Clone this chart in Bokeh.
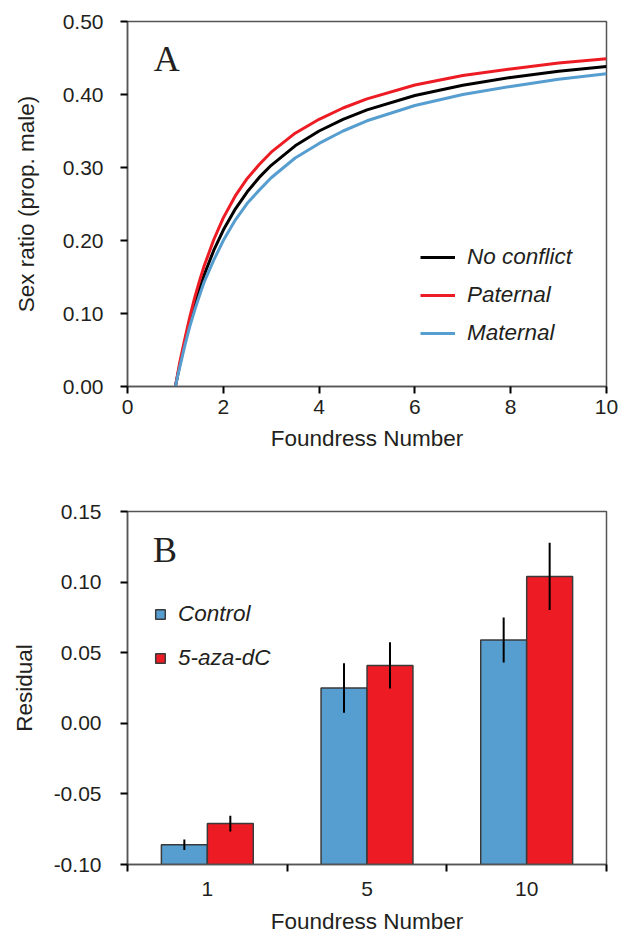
import numpy as np
from bokeh.plotting import figure
from bokeh.layouts import column
from bokeh.models import (Range1d, FixedTicker, NumeralTickFormatter, Legend,
                          LegendItem, Label)
from bokeh.embed import file_html
from bokeh.resources import INLINE

# ---------------- data: panel A (theoretical sex ratios) ----------------
foundress_n = [1, 1.05, 1.1, 1.2, 1.3, 1.4, 1.5, 1.6, 1.8, 2, 2.25, 2.5, 2.75,
               3, 3.5, 4, 4.5, 5, 6, 7, 8, 9, 10]
no_conflict = [0, 0.0164, 0.0321, 0.0614, 0.0879, 0.1118, 0.1333, 0.1528, 0.1864,
               0.2143, 0.2431, 0.2667, 0.2864, 0.3030, 0.3297, 0.3500, 0.3660,
               0.3789, 0.3986, 0.4127, 0.4234, 0.4317, 0.4385]
paternal = [0, 0.018, 0.036, 0.066, 0.095, 0.121, 0.144, 0.165, 0.201, 0.231,
            0.261, 0.285, 0.304, 0.321, 0.347, 0.366, 0.3815, 0.394, 0.413,
            0.426, 0.435, 0.443, 0.449]
maternal = [0, 0.015, 0.029, 0.057, 0.082, 0.104, 0.124, 0.143, 0.173, 0.200,
            0.228, 0.251, 0.269, 0.286, 0.313, 0.333, 0.350, 0.364, 0.385,
            0.400, 0.411, 0.421, 0.4285]
a_xticks = [0, 2, 4, 6, 8, 10]
a_yticks = [0.0, 0.1, 0.2, 0.3, 0.4, 0.5]

# ---------------- data: panel B (residuals) ----------------
categories = ["1", "5", "10"]
control = [-0.086, 0.025, 0.059]
control_se = [0.0037, 0.0176, 0.016]
aza = [-0.071, 0.041, 0.104]
aza_se = [0.0056, 0.0164, 0.0238]
b_yticks = [-0.10, -0.05, 0.0, 0.05, 0.10, 0.15]

FONT = "Liberation Sans"
SERIF = "Liberation Serif"
TXT = "#231f20"
RED = "#ed1c24"
BLUE = "#569dd0"
FRAME = "#555555"


def style(p):
    p.xgrid.grid_line_color = None
    p.ygrid.grid_line_color = None
    p.outline_line_color = FRAME
    p.outline_line_width = 1.5
    p.background_fill_color = "white"
    p.border_fill_color = "white"
    for ax in (p.xaxis[0], p.yaxis[0]):
        ax.axis_line_color = FRAME
        ax.axis_line_width = 1.5
        ax.major_tick_line_color = "black"
        ax.major_tick_line_width = 2
        ax.major_tick_in = 0
        ax.major_tick_out = 7
        ax.minor_tick_line_color = None
        ax.major_label_text_font = FONT
        ax.major_label_text_font_size = "21px"
        ax.major_label_text_color = TXT
        ax.axis_label_text_font = FONT
        ax.axis_label_text_font_size = "22.5px"
        ax.axis_label_text_font_style = "normal"
        ax.axis_label_text_color = TXT


# ---------------- panel A ----------------
pA = figure(width=626, height=465, x_range=Range1d(0, 10), y_range=Range1d(0, 0.5),
            output_backend="svg", toolbar_location=None,
            min_border_left=124, min_border_right=17, min_border_top=21,
            min_border_bottom=79)
style(pA)
pA.xaxis.ticker = FixedTicker(ticks=a_xticks)
pA.yaxis.ticker = FixedTicker(ticks=a_yticks)
pA.yaxis.formatter = NumeralTickFormatter(format="0.00")
pA.xaxis.axis_label = "Foundress Number"
pA.yaxis.axis_label = "Sex ratio (prop. male)"
pA.xaxis.major_label_standoff = 6
pA.xaxis.axis_label_standoff = 9
pA.yaxis.major_label_standoff = 17
pA.yaxis.axis_label_standoff = 21

r_nc = pA.line(foundress_n, no_conflict, line_color="black", line_width=3,
               line_join="round")
r_pat = pA.line(foundress_n, paternal, line_color=RED, line_width=3,
                line_join="round")
r_mat = pA.line(foundress_n, maternal, line_color=BLUE, line_width=3,
                line_join="round")

legA = Legend(items=[LegendItem(label="No conflict", renderers=[r_nc]),
                     LegendItem(label="Paternal", renderers=[r_pat]),
                     LegendItem(label="Maternal", renderers=[r_mat])],
              location=(293, 38), border_line_color=None, background_fill_alpha=0,
              padding=0, margin=0, spacing=8, glyph_width=35, glyph_height=30,
              label_height=30, label_standoff=12, label_text_font=FONT,
              label_text_font_style="italic", label_text_font_size="22.5px",
              label_text_color=TXT)
pA.add_layout(legA)
pA.add_layout(Label(x=0.55, y=0.4486, text="A", text_font=SERIF, text_font_size="36px",
                    text_color=TXT, text_baseline="alphabetic"))

# ---------------- panel B ----------------
pB = figure(width=626, height=471, x_range=Range1d(0, len(categories)),
            y_range=Range1d(b_yticks[0], b_yticks[-1]),
            output_backend="svg", toolbar_location=None,
            min_border_left=127, min_border_right=20, min_border_top=46,
            min_border_bottom=69)
style(pB)
centers = np.arange(len(categories)) + 0.5
pB.xaxis.ticker = FixedTicker(ticks=list(centers),
                              minor_ticks=list(range(len(categories) + 1)))
pB.xaxis.major_label_overrides = {float(c): lab for c, lab in zip(centers, categories)}
pB.xaxis.major_tick_line_color = None
pB.xaxis.minor_tick_line_color = "black"
pB.xaxis.minor_tick_line_width = 2
pB.xaxis.minor_tick_in = 0
pB.xaxis.minor_tick_out = 7
pB.yaxis.ticker = FixedTicker(ticks=b_yticks)
pB.yaxis.formatter = NumeralTickFormatter(format="0.00")
pB.xaxis.axis_label = "Foundress Number"
pB.yaxis.axis_label = "Residual"
pB.xaxis.major_label_standoff = 10
pB.xaxis.axis_label_standoff = 10
pB.yaxis.major_label_standoff = 19
pB.yaxis.axis_label_standoff = 14

bar_w = 0.2875
off = 0.144
base = b_yticks[0]
rc = pB.vbar(x=centers - off, top=control, bottom=base, width=bar_w,
             fill_color=BLUE, line_color="#3a3a3a", line_width=1.5)
ra = pB.vbar(x=centers + off, top=aza, bottom=base, width=bar_w,
             fill_color=RED, line_color="#3a3a3a", line_width=1.5)
c_arr, cs_arr = np.array(control), np.array(control_se)
a_arr, as_arr = np.array(aza), np.array(aza_se)
pB.segment(x0=centers - off, y0=c_arr - cs_arr, x1=centers - off, y1=c_arr + cs_arr,
           line_color="black", line_width=2)
pB.segment(x0=centers + off, y0=a_arr - as_arr, x1=centers + off, y1=a_arr + as_arr,
           line_color="black", line_width=2)

legB = Legend(items=[LegendItem(label="Control", renderers=[rc]),
                     LegendItem(label="5-aza-dC", renderers=[ra])],
              location=(27, 191), border_line_color=None, background_fill_alpha=0,
              padding=0, margin=0, spacing=14, glyph_width=12, glyph_height=12,
              label_height=30, label_standoff=12, label_text_font=FONT,
              label_text_font_style="italic", label_text_font_size="22.5px",
              label_text_color=TXT)
pB.add_layout(legB)
pB.add_layout(Label(x=0.16, y=0.1229, text="B", text_font=SERIF, text_font_size="36px",
                    text_color=TXT, text_baseline="alphabetic"))

layout = column(pA, pB, spacing=0)
open("out.html", "w").write(file_html(layout, INLINE))
